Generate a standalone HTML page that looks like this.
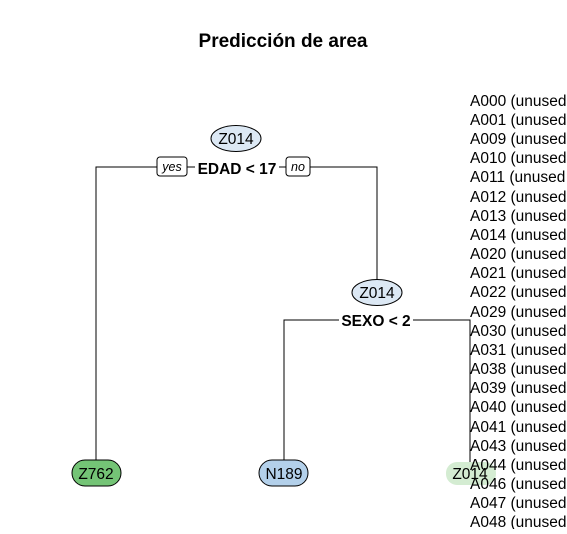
<!DOCTYPE html>
<html><head><style>
body{margin:0;background:#fff}
svg text{font-family:"Liberation Sans",Arial,sans-serif}
</style></head><body>
<svg width="567" height="529" viewBox="0 0 567 529" xmlns="http://www.w3.org/2000/svg">
<rect width="567" height="529" fill="#fff"/>
<text x="283" y="47" font-size="19" font-weight="bold" text-anchor="middle">Predicción de area</text>
<g stroke="#000" stroke-width="1" fill="none">
<path d="M96,462 V167 H377 V280"/>
<path d="M284,462 V320 H470 V462"/>
</g>
<rect x="195" y="157" width="84" height="20" fill="#fff"/>
<rect x="339" y="310" width="74" height="20" fill="#fff"/>
<text x="237" y="174" font-size="15.5" font-weight="bold" text-anchor="middle">EDAD &lt; 17</text>
<text x="376" y="326" font-size="15.5" font-weight="bold" text-anchor="middle">SEXO &lt; 2</text>
<rect x="157" y="157" width="30" height="19" rx="3" fill="#fff" stroke="#000"/>
<text x="172" y="171" font-size="12.5" font-style="italic" text-anchor="middle">yes</text>
<rect x="286" y="157" width="24" height="19" rx="3" fill="#fff" stroke="#000"/>
<text x="298" y="171" font-size="12.5" font-style="italic" text-anchor="middle">no</text>
<ellipse cx="236" cy="138.5" rx="25" ry="13" fill="#dce8f4" stroke="#000"/>
<text x="236" y="144" font-size="15.5" text-anchor="middle">Z014</text>
<ellipse cx="377" cy="292.5" rx="25" ry="13" fill="#dce8f4" stroke="#000"/>
<text x="377" y="298" font-size="15.5" text-anchor="middle">Z014</text>
<rect x="72" y="460" width="49" height="26" rx="13" fill="#74c476" stroke="#000"/>
<text x="96" y="479" font-size="15.5" text-anchor="middle">Z762</text>
<rect x="259" y="460" width="49" height="26" rx="13" fill="#b3d0ea" stroke="#000"/>
<text x="284" y="479" font-size="15.5" text-anchor="middle">N189</text>
<rect x="446" y="462" width="50" height="23" rx="11" fill="#d4ecd2"/>
<text x="470" y="479" font-size="15.5" text-anchor="middle">Z014</text>
<g font-size="15.5">
<text x="470" y="106">A000 (unused</text>
<text x="470" y="125">A001 (unused</text>
<text x="470" y="144">A009 (unused</text>
<text x="470" y="163">A010 (unused</text>
<text x="470" y="182">A011 (unused</text>
<text x="470" y="202">A012 (unused</text>
<text x="470" y="221">A013 (unused</text>
<text x="470" y="240">A014 (unused</text>
<text x="470" y="259">A020 (unused</text>
<text x="470" y="278">A021 (unused</text>
<text x="470" y="297">A022 (unused</text>
<text x="470" y="317">A029 (unused</text>
<text x="470" y="336">A030 (unused</text>
<text x="470" y="355">A031 (unused</text>
<text x="470" y="374">A038 (unused</text>
<text x="470" y="393">A039 (unused</text>
<text x="470" y="412">A040 (unused</text>
<text x="470" y="432">A041 (unused</text>
<text x="470" y="451">A043 (unused</text>
<text x="470" y="470">A044 (unused</text>
<text x="470" y="489">A046 (unused</text>
<text x="470" y="508">A047 (unused</text>
<text x="470" y="527">A048 (unused</text>
</g>
</svg>
</body></html>
